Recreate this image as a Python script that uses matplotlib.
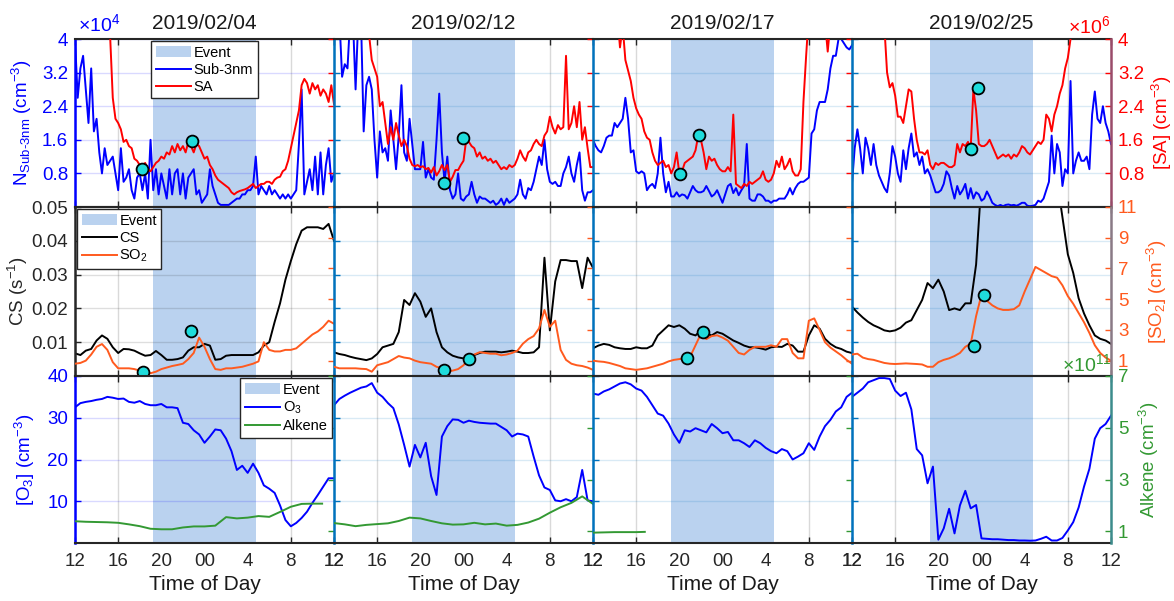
import numpy as np
import matplotlib
matplotlib.use("Agg")
import matplotlib.pyplot as plt

plt.rcParams['font.family'] = ['Liberation Sans', 'DejaVu Sans']
plt.rcParams['mathtext.fontset'] = 'custom'
plt.rcParams['mathtext.rm'] = 'Liberation Sans'
plt.rcParams['mathtext.it'] = 'Liberation Sans:italic'
plt.rcParams['mathtext.bf'] = 'Liberation Sans:bold'
plt.rcParams['mathtext.sf'] = 'Liberation Sans'

nan = np.nan

# ---------------- data ----------------
dates = ['2019/02/04', '2019/02/12', '2019/02/17', '2019/02/25']
event_start, event_end = 19.2, 28.8
xticks = [12, 16, 20, 24, 28, 32, 36]
xticklabels = ['12', '16', '20', '00', '4', '8', '12']

# Top row, 15-min values starting 12:00 (Sub-3nm in 1e4 cm-3, SA in 1e6 cm-3)
sub3_0204 = [4.0, 2.6, 3.3, 3.6, 2.8, 2.0, 3.3, 1.8, 2.1, 1.3,
             0.8, 1.4, 1.0, 1.1, 1.2, 0.8, 0.4, 1.4, 0.6, 0.7,
             0.9, 0.4, 0.2, 0.7, 0.8, 0.4, 0.8, 0.2, 1.6, 0.4,
             0.9, 0.3, 0.8, 0.5, 0.2, 0.9, 0.3, 0.8, 0.9, 0.3,
             0.8, 0.2, 0.7, 0.8, 0.9, 0.3, 0.4, 0.1, 0.2, 0.3,
             0.9, 0.5, 0.3, 0.1, 0.05, 0.05, 0.05, 0.05, 0.1, 0.15,
             0.2, 0.2, 0.3, 0.3, 0.4, 0.4, 0.5, 1.2, 0.3, 0.5,
             0.4, 0.3, 0.5, 0.3, 0.4, 0.3, 0.2, 0.3, 0.2, 0.3,
             0.2, 0.3, 0.4, 1.5, 2.8, 0.3, 0.6, 0.9, 0.4, 1.2,
             0.3, 1.3, 0.3, 1.0, 1.4, 0.6, 0.8]
sub3_0212 = [4.5, 4.5, 4.5, 3.1, 3.4, 3.3, 4.5, 4.5, 2.8, 4.5,
             4.5, 1.8, 2.9, 3.1, 2.8, 1.6, 0.7, 1.8, 1.3, 1.4,
             1.1, 2.3, 1.6, 0.9, 1.7, 2.9, 1.3, 1.1, 2.1, 1.5,
             0.9, 0.9, 0.9, 1.55, 0.7, 0.9, 0.7, 0.65, 1.6, 2.7,
             1.3, 0.6, 1.2, 0.4, 0.2, 0.3, 0.8, 0.2, 0.15, 0.25,
             0.3, 0.6, 0.3, 0.1, 0.25, 0.2, 0.2, 0.15, 0.1, 0.15,
             0.05, 0.1, 0.2, 0.05, 0.2, 0.1, 0.15, 0.2, 0.3, 0.65,
             0.3, 0.2, 0.45, 0.4, 0.6, 0.9, 1.2, 1.0, 1.6, 0.9,
             0.6, 0.55, 0.6, 0.5, 0.5, 0.8, 0.95, 1.2, 0.8, 0.6,
             1.0, 1.3, 0.4, 0.15, 0.35, 0.35, 0.4]
sub3_0217 = [1.6, 1.45, 1.35, 1.3, 1.45, 1.65, 1.7, 1.7, 2.0, 1.9,
             2.0, 2.1, 2.6, 2.1, 1.3, 1.35, 0.85, 0.8, 0.85, 0.8,
             0.4, 0.5, 0.55, 0.45, 0.8, 1.65, 0.8, 0.35, 0.6, 0.25,
             0.25, 0.35, 0.25, 0.3, 0.28, 0.2, 0.35, 0.5, 0.4, 0.35,
             0.35, 0.38, 0.5, 0.38, 0.25, 0.3, 0.4, 0.25, 0.1, 0.3,
             0.5, 0.55, 0.33, 0.45, 0.28, 0.4, 0.5, 1.5, 0.2, 0.15,
             0.15, 0.3, 0.3, 0.25, 0.15, 0.15, 0.1, 0.15, 0.15, 0.2,
             0.2, 0.2, 0.3, 0.45, 0.3, 0.45, 0.55, 0.6, 0.6, 0.65,
             0.7, 1.75, 1.85, 2.3, 2.5, 2.5, 2.5, 2.8, 3.3, 3.6,
             3.6, 4.0, 4.0, 3.9, 3.8, 3.75, 3.85]
sub3_0225 = [0.56, 1.4, 1.85, 1.4, 0.8, 1.65, 1.4, 1.0, 1.5, 1.0,
             0.75, 0.6, 0.45, 0.35, 0.8, 1.45, 1.2, 0.8, 0.6, 1.35,
             0.9, 1.4, 1.75, 1.2, 1.3, 1.0, 1.2, 0.8, 0.9, 0.75,
             0.55, 0.35, 0.35, 0.4, 0.55, 0.85, 0.75, 0.45, 0.2, 0.5,
             0.3, 0.4, 0.55, 0.2, 0.45, 0.2, 0.35, 0.3, 0.15, 0.2,
             0.37, 0.25, 0.1, 0.05, 0.02, 0.05, 0.02, 0.05, 0.06, 0.04,
             0.05, 0.03, 0.06, 0.1, 0.1, 0.03, 0.02, 0.03, 0.05, 0.15,
             0.12, 0.2, 0.4, 0.6, 1.7, 0.8, 1.5, 1.3, 0.5, 0.9,
             0.8, 3.0, 0.8, 1.1, 1.3, 1.1, 1.1, 1.2, 0.9, 2.2,
             2.75, 2.1, 2.0, 2.4, 2.0, 1.8, 1.5]

sa_0204 = [nan] * 12 + [4.6, 4.1, 2.6, 2.1, 2.0, 1.85, 1.55, 1.6, 1.45, 1.4, 1.15,
                        1.1, 1.0, 0.95, 1.05, 0.9, 0.85, 0.95, 1.05, 1.1, 1.2,
                        1.15, 1.3, 1.25, 1.45, 1.3, 1.5, 1.35, 1.45, 1.3, 1.55,
                        1.45, 1.3, 1.5, 1.45, 1.3, 1.15, 1.2, 1.0, 0.9, 0.75,
                        0.65, 0.6, 0.55, 0.5, 0.45, 0.35, 0.3, 0.35, 0.38, 0.4,
                        0.42, 0.45, 0.5, 0.55, 0.45, 0.5, 0.55, 0.55, 0.6, 0.6,
                        0.55, 0.65, 0.7, 0.72, 0.85, 0.9, 1.1, 1.4, 1.7, 2.0,
                        2.3, 2.9, 3.05, 2.95, 2.7, 2.95, 2.8, 2.9, 2.65, 2.8,
                        2.7, 2.5, 2.9, 2.45]
sa_0212 = [nan] * 12 + [4.6, 4.1, 3.5, 3.3, 3.1, 2.4, 2.5, 2.0, 1.5, 1.9,
                        1.6, 2.0, 1.7, 1.45, 1.6, 1.45, 1.15, 1.0, 0.97, 1.0,
                        0.95, 0.97, 0.9, 0.93, 0.82, 0.95, 0.75, 0.85, 1.0, 0.88,
                        1.0, 0.6, 0.72, 0.88, 0.88, 1.0, 1.1, 1.6, 1.55, 1.45,
                        1.4, 1.2, 1.3, 1.15, 1.2, 1.1, 1.15, 1.05, 1.1, 1.0,
                        0.9, 0.95, 0.9, 1.0, 0.95, 1.0, 1.15, 1.35, 1.2, 1.1,
                        1.3, 1.35, 1.5, 1.6, 1.5, 1.45, 1.7, 1.8, 2.15, 1.9,
                        1.75, 1.95, 1.85, 1.9, 3.6, 1.85, 2.0, 2.4, 1.9, 2.5,
                        1.6, 1.9, 1.4, 0.95, 0.95]
sa_0217 = [nan] * 9 + [4.6, 3.8, 4.3, 3.5, 3.25, 3.0, 2.6, 2.35, 2.2, 2.1,
                       1.8, 1.65, 1.6, 1.3, 1.1, 1.0, 1.05, 1.1, 0.95, 1.0,
                       0.8, 0.95, 1.3, 0.8, 0.85, 1.05, 1.1, 1.15, 1.2, 1.35,
                       1.7, 1.6, 1.3, 0.9, 1.2, 1.1, 1.15, 1.0, 0.9, 0.85,
                       0.85, 0.95, 0.85, 2.2, 0.55, 0.5, 0.45, 0.55, 0.5, 0.6,
                       0.55, 0.6, 0.65, 0.7, 0.85, 0.65, 0.6, 0.65, 0.8, 1.1,
                       0.95, 1.2, 0.9, 1.0, 1.15, 0.85, 0.75, 0.75, 0.9, 2.5,
                       3.6, 4.6] + [nan] * 5 + [4.4, 3.7, 4.4] + [nan] * 8
sa_0225 = [nan] * 12 + [4.3, 3.2, 2.85, 2.95, 2.65, 2.15, 2.15, 2.0, 2.4, 2.8,
                        2.75, 2.1, 1.6, 1.3, 1.3, 1.25, 1.35, 1.0, 0.9, 1.05,
                        1.0, 1.05, 1.05, 1.0, 0.95, 0.95, 1.0, 1.5, 1.3, 1.5,
                        1.45, 1.55, 1.4, 2.8, 2.3, 1.5, 1.45, 1.45, 1.5, 1.6,
                        1.45, 1.3, 1.15, 1.2, 1.25, 1.2, 1.25, 1.15, 1.25, 1.2,
                        1.3, 1.45, 1.4, 1.3, 1.25, 1.35, 1.45, 1.55, 1.5, 1.6,
                        2.2, 2.1, 1.8, 2.2, 2.4, 2.7, 2.9, 3.3, 3.55, 4.0,
                        4.6] + [nan] * 14

# cyan markers on the SA axis (hour of day, 1e6 cm-3)
mk_top_t = [[18.24, 22.87], [22.23, 23.99], [20.06, 21.82], [23.0, 23.65]]
mk_top_v = [[0.9, 1.58], [0.58, 1.65], [0.78, 1.71], [1.39, 2.83]]

# Middle row, 30-min values from 12:00 (CS in 1e-2 s-1, SO2 in axis units)
cs_0204 = [0.67, 0.62, 0.75, 0.8, 1.05, 1.2, 1.1, 0.85, 0.68, 0.8,
           0.79, 0.75, 0.67, 0.6, 0.62, 0.74, 0.62, 0.48, 0.48, 0.5,
           0.55, 0.75, 0.85, 0.85, 0.95, 0.9, 0.48, 0.5, 0.6, 0.62,
           0.62, 0.62, 0.62, 0.62, 0.7, 0.9, 1.0, 1.6, 2.15, 2.85,
           3.4, 3.9, 4.3, 4.4, 4.4, 4.4, 4.35, 4.5, 4.0]
cs_0212 = [0.7, 0.65, 0.62, 0.57, 0.53, 0.5, 0.47, 0.52, 0.65, 0.85,
           0.9, 0.95, 1.3, 2.25, 2.1, 2.45, 2.2, 1.75, 2.0, 1.3,
           0.85, 0.7, 0.6, 0.55, 0.52, 0.52, 0.62, 0.68, 0.72, 0.72,
           0.72, 0.7, 0.72, 0.75, 0.72, 0.68, 0.68, 0.7, 0.85, 3.5,
           1.35, 2.8, 3.43, 3.43, 3.4, 3.4, 2.6, 3.5, 3.2]
cs_0217 = [0.82, 0.9, 0.95, 0.92, 0.85, 0.82, 0.8, 0.8, 0.85, 0.82,
           0.82, 0.9, 1.2, 1.35, 1.5, 1.45, 1.5, 1.4, 1.25, 1.2,
           1.35, 1.25, 1.2, 1.3, 1.25, 1.15, 1.05, 0.98, 0.9, 0.85,
           0.85, 0.82, 0.78, 0.85, 0.87, 0.86, 0.95, 0.9, 0.72, 0.72,
           1.2, 1.5, 1.4, 1.1, 0.95, 0.85, 0.8, 0.72, 0.68]
cs_0225 = [2.05, 1.88, 1.73, 1.6, 1.5, 1.43, 1.35, 1.32, 1.35, 1.43,
           1.58, 1.65, 1.95, 2.25, 2.75, 2.6, 2.85, 2.5, 1.95, 2.0,
           1.95, 2.15, 2.15, 3.3, 5.8] + [nan] * 13 + [5.8, 4.7, 3.6, 3.05, 2.3,
                                                      1.85, 1.5, 1.2, 1.1, 1.05, 0.95]

so2_0204 = [0.8, 0.85, 1.0, 1.4, 1.9, 2.08, 1.7, 0.9, 0.5, 0.5,
            0.5, 0.45, 0.35, 0.28, 0.18, 0.28, 0.45, 0.55, 0.65, 0.72,
            0.8, 1.1, 1.5, 2.5, 1.9, 1.1, 0.45, 0.4, 0.5, 0.5,
            0.55, 0.6, 0.7, 0.8, 0.95, 2.2, 1.7, 1.6, 1.6, 1.7,
            1.7, 1.8, 2.1, 2.4, 2.7, 2.9, 3.2, 3.6, 3.4]
so2_0212 = [0.6, 0.5, 0.5, 0.5, 0.5, 0.47, 0.45, 0.28, 0.7, 0.8,
            0.9, 1.1, 1.3, 1.2, 1.15, 1.0, 0.9, 0.85, 0.8, 0.6,
            0.5, 0.3, 0.35, 0.45, 0.7, 1.15, 1.4, 1.55, 1.5, 1.45,
            1.45, 1.35, 1.4, 1.5, 1.65, 2.1, 2.4, 2.6, 3.1, 4.3,
            3.2, 3.6, 1.7, 1.05, 0.8, 0.7, 0.65, 0.55, 0.4]
so2_0217 = [1.0, 0.95, 0.92, 0.85, 0.75, 0.65, 0.5, 0.45, 0.4, 0.45,
            0.5, 0.6, 0.7, 0.8, 0.95, 1.05, 1.1, 1.15, 1.25, 2.0,
            2.75, 2.4, 2.6, 2.65, 2.5, 2.3, 1.9, 1.5, 1.4, 1.7,
            1.9, 1.9, 1.9, 2.0, 1.9, 2.4, 2.4, 1.5, 1.15, 1.15,
            3.6, 3.75, 3.0, 2.2, 1.85, 1.6, 1.35, 1.05, 0.8]
so2_0225 = [1.4, 1.45, 1.2, 1.1, 1.05, 0.95, 0.85, 0.8, 0.78, 0.8,
            0.82, 0.8, 0.78, 0.75, 0.6, 0.6, 0.9, 1.05, 1.15, 1.3,
            1.5, 1.9, 2.1, 3.9, 5.3, 4.9, 4.6, 4.4, 4.3, 4.3,
            4.35, 4.6, 5.5, 6.3, 7.1, 6.9, 6.7, 6.5, 6.4, 5.9,
            5.2, 4.7, 4.1, 3.5, 2.8, 2.0, 1.5, 1.2, 1.0]

# cyan markers on the SO2 axis
mk_mid_t = [[18.27, 22.75], [22.2, 24.54], [20.68, 22.16], [23.34, 24.26]]
mk_mid_v = [[0.28, 2.93], [0.39, 1.08], [1.19, 2.84], [1.97, 5.29]]

# Bottom row: O3 30-min values from 12:00; alkene (1e11 cm-3) at given hours
o3_0204 = [32.5, 33.5, 33.8, 34.0, 34.3, 34.5, 35.0, 34.8, 34.5, 34.6,
           33.8, 33.6, 34.0, 33.3, 33.0, 33.0, 33.3, 32.5, 32.5, 32.3,
           28.8, 28.5, 27.0, 26.0, 24.0, 25.5, 27.2, 27.0, 25.0, 22.0,
           17.5, 18.5, 16.8, 19.0, 16.8, 13.8, 13.0, 12.0, 9.0, 5.5,
           4.0, 4.8, 6.0, 7.5, 9.6, 11.5, 13.5, 15.5, 15.5]
o3_0212 = [33.0, 34.5, 35.3, 36.0, 36.6, 37.2, 37.5, 38.3, 36.0, 35.0,
           33.5, 32.3, 28.4, 23.5, 18.3, 23.5, 20.5, 24.0, 16.0, 11.5,
           25.5, 28.0, 29.6, 29.5, 28.8, 29.3, 29.0, 28.8, 28.7, 28.6,
           28.6, 27.8, 27.0, 25.5, 26.2, 26.0, 25.5, 20.7, 16.2, 13.3,
           12.7, 10.2, 10.0, 10.5, 10.0, 11.0, 17.5, 10.2, 10.0]
o3_0217 = [35.8, 35.5, 36.3, 36.8, 37.5, 38.2, 38.5, 38.0, 37.0, 36.5,
           35.0, 33.0, 31.0, 30.5, 28.6, 26.0, 24.0, 27.0, 26.7, 27.5,
           27.0, 26.5, 28.5, 27.5, 26.3, 26.6, 24.6, 24.6, 23.9, 23.0,
           24.6, 23.9, 22.8, 22.0, 21.5, 22.5, 22.0, 20.0, 20.7, 21.5,
           23.9, 22.3, 25.5, 28.0, 29.5, 31.5, 32.5, 35.0, 36.0]
o3_0225 = [35.0, 36.0, 37.0, 38.5, 39.0, 39.5, 39.5, 39.3, 36.5, 35.2,
           36.0, 32.0, 22.5, 21.0, 14.3, 18.3, 0.8, 3.5, 8.2, 2.3,
           9.0, 12.5, 8.3, 9.1, 1.1, 1.0, 0.9, 0.9, 0.8, 0.7,
           0.7, 0.6, 0.6, 0.55, 0.6, 1.0, 1.5, 0.6, 0.6, 1.2,
           3.0, 5.0, 8.5, 13.5, 17.8, 25.0, 27.5, 28.5, 30.5]

alk_t_0204 = list(range(12, 35)) + [34.9]
alk_0204 = [1.39, 1.37, 1.36, 1.35, 1.33, 1.27, 1.2, 1.1, 1.08, 1.08,
            1.15, 1.19, 1.19, 1.22, 1.55, 1.5, 1.53, 1.59, 1.56, 1.75,
            1.95, 2.06, 2.07, 2.07]
alk_t_0212 = list(range(12, 37))
alk_0212 = [1.32, 1.27, 1.2, 1.25, 1.28, 1.31, 1.4, 1.53, 1.5, 1.4,
            1.31, 1.26, 1.27, 1.33, 1.27, 1.3, 1.22, 1.25, 1.34, 1.49,
            1.72, 1.93, 2.1, 2.35, 2.06]
alk_t_0217 = [12, 13, 14, 15, 16, 16.8]
alk_0217 = [0.95, 0.96, 0.97, 0.97, 0.97, 0.98]
alk_t_0225 = []
alk_0225 = []

sub3 = [sub3_0204, sub3_0212, sub3_0217, sub3_0225]
sa = [sa_0204, sa_0212, sa_0217, sa_0225]
cs = [cs_0204, cs_0212, cs_0217, cs_0225]
so2 = [so2_0204, so2_0212, so2_0217, so2_0225]
o3 = [o3_0204, o3_0212, o3_0217, o3_0225]
alk_t = [alk_t_0204, alk_t_0212, alk_t_0217, alk_t_0225]
alk = [alk_0204, alk_0212, alk_0217, alk_0225]

# ---------------- style ----------------
BLUE = '#0000ff'
RED = '#ff0000'
ORANGE = '#ff5a1e'
GREEN = '#339933'
EVENT = '#bad2ef'
CYAN = '#1fdcdc'
AXBLUE = '#0072bd'
DARK = '#262626'

W, H = 1174, 601
fig = plt.figure(figsize=(W / 100, H / 100), dpi=100)
L0, CW = 75, 259
RT = [39, 207, 376]
RB = [207, 376, 543]
TICK_FS = 13.5


def hours(vals, step):
    return 12 + step * np.arange(len(vals))


def make_axes(r, c, lcolor, rcolor, rspine_color):
    ax = fig.add_axes([(L0 + CW * c) / W, 1 - RB[r] / H, CW / W, (RB[r] - RT[r]) / H])
    ax2 = ax.twinx()
    ax.set_xlim(12, 36)
    ax.set_xticks(xticks)
    ax.set_xticklabels(xticklabels if r == 2 else [])
    ax.set_axisbelow(True)
    ax.xaxis.grid(True, color='#d9d9d9', lw=1.0)
    gcol = lcolor if c == 0 else AXBLUE
    ax.yaxis.grid(True, color=gcol, alpha=0.15, lw=1.0)
    ax.yaxis.set_zorder(0.9)
    ax.tick_params(axis='x', direction='in', top=True, length=4, width=1,
                   color=DARK, labelcolor=DARK, labelsize=TICK_FS, pad=7)
    lc = lcolor if c == 0 else AXBLUE
    ax.tick_params(axis='y', direction='in', length=4, width=1, color=lc,
                   labelcolor=lcolor, labelsize=TICK_FS, labelleft=(c == 0), pad=5)
    ax2.tick_params(axis='y', direction='in', length=4, width=1, color=rcolor,
                    labelcolor=rcolor, labelsize=TICK_FS, labelright=(c == 3), pad=5)
    for s in ('top', 'bottom'):
        ax.spines[s].set_color(DARK)
        ax.spines[s].set_linewidth(1.5)
    ax.spines['right'].set_visible(False)
    ax.spines['left'].set_color(lcolor if c == 0 else AXBLUE)
    ax.spines['left'].set_linewidth(1.8)
    for s in ('left', 'top', 'bottom'):
        ax2.spines[s].set_visible(False)
    if c == 3:
        ax2.spines['right'].set_color(rspine_color)
        ax2.spines['right'].set_linewidth(1.8)
    else:
        ax2.spines['right'].set_visible(False)
    return ax, ax2


def legend(ax2, handles, labels, loc, anchor):
    leg = ax2.legend(handles, labels, loc=loc, bbox_to_anchor=anchor, fontsize=10.5,
                     frameon=True, fancybox=False, framealpha=1, edgecolor=DARK,
                     borderpad=0.3, labelspacing=0.22, handlelength=2.4,
                     handletextpad=0.2, borderaxespad=0.15)
    leg.get_frame().set_linewidth(1.0)
    leg.set_zorder(10)


lw = 1.4
for c in range(4):
    # ---- top row ----
    ax, ax2 = make_axes(0, c, BLUE, RED, '#9a4c6a')
    ev = ax.axvspan(event_start, event_end, color=EVENT, lw=0, zorder=0.8)
    l1, = ax.plot(hours(sub3[c], 0.25), np.array(sub3[c], float), color=BLUE, lw=lw, zorder=2)
    l2, = ax2.plot(hours(sa[c], 0.25), np.array(sa[c], float), color=RED, lw=lw, zorder=2)
    ax2.plot(mk_top_t[c], mk_top_v[c], 'o', ms=8.5, mfc=CYAN, mec='black', mew=1.3, zorder=5)
    ax.set_ylim(0, 4)
    ax2.set_ylim(0, 4)
    ax.set_yticks([0.8, 1.6, 2.4, 3.2, 4])
    ax.set_yticklabels(['0.8', '1.6', '2.4', '3.2', '4'])
    ax2.set_yticks([0.8, 1.6, 2.4, 3.2, 4])
    ax2.set_yticklabels(['0.8', '1.6', '2.4', '3.2', '4'])
    ax.set_title(dates[c], fontsize=15, color='#1a1a1a', pad=7)
    if c == 0:
        ax.set_ylabel(r'N$_{\mathrm{Sub}\text{-}\mathrm{3nm}}$ (cm$^{-3}$)', color=BLUE, fontsize=13.5)
        ax.yaxis.set_label_coords(-0.16, 0.5)
        legend(ax2, [ev, l1, l2], ['Event', 'Sub-3nm', 'SA'], 'upper center', (0.5, 1.0))
    if c == 3:
        ax2.set_ylabel('[SA] (cm$^{-3}$)', color=RED, fontsize=13.5)
        ax2.yaxis.set_label_coords(1.15, 0.5)

    # ---- middle row ----
    ax, ax2 = make_axes(1, c, DARK, ORANGE, '#8a7a86')
    ev = ax.axvspan(event_start, event_end, color=EVENT, lw=0, zorder=0.8)
    l1, = ax.plot(hours(cs[c], 0.5), np.array(cs[c], float) * 1e-2, color='black', lw=lw, zorder=2)
    l2, = ax2.plot(hours(so2[c], 0.5), np.array(so2[c], float), color=ORANGE, lw=lw, zorder=2)
    ax2.plot(mk_mid_t[c], mk_mid_v[c], 'o', ms=8.5, mfc=CYAN, mec='black', mew=1.3, zorder=5)
    ax.set_ylim(0, 0.05)
    ax2.set_ylim(0, 11)
    ax.set_yticks([0.01, 0.02, 0.03, 0.04, 0.05])
    ax.set_yticklabels(['0.01', '0.02', '0.03', '0.04', '0.05'])
    ax2.set_yticks([1, 3, 5, 7, 9, 11])
    if c == 0:
        ax.set_ylabel('CS (s$^{-1}$)', color=DARK, fontsize=13.5)
        ax.yaxis.set_label_coords(-0.175, 0.5)
        legend(ax2, [ev, l1, l2], ['Event', 'CS', 'SO$_2$'], 'upper left', (0.0, 1.0))
    if c == 3:
        ax2.set_ylabel('[SO$_2$] (cm$^{-3}$)', color=ORANGE, fontsize=13.5)
        ax2.yaxis.set_label_coords(1.13, 0.5)

    # ---- bottom row ----
    ax, ax2 = make_axes(2, c, BLUE, GREEN, '#3c8c8c')
    ev = ax.axvspan(event_start, event_end, color=EVENT, lw=0, zorder=0.8)
    l1, = ax.plot(hours(o3[c], 0.5), o3[c], color=BLUE, lw=lw, zorder=2)
    l2, = ax2.plot(alk_t[c], alk[c], color=GREEN, lw=lw, zorder=2)
    ax.set_ylim(0, 40)
    ax2.set_ylim(0.55, 7)
    ax.set_yticks([10, 20, 30, 40])
    ax2.set_yticks([1, 3, 5, 7])
    ax.set_xlabel('Time of Day', fontsize=15, color='#1a1a1a', labelpad=4)
    if c == 0:
        ax.set_ylabel('[O$_3$] (cm$^{-3}$)', color=BLUE, fontsize=13.5)
        ax.yaxis.set_label_coords(-0.145, 0.5)
        legend(ax2, [ev, l1, l2], ['Event', 'O$_3$', 'Alkene'], 'upper right', (1.0, 1.0))
    if c == 3:
        ax2.set_ylabel('Alkene (cm$^{-3}$)', color=GREEN, fontsize=13.5)
        ax2.yaxis.set_label_coords(1.1, 0.5)

# exponent labels
fig.text(78 / W, 1 - 35 / H, r'$\times$10$^{4}$', color=BLUE, fontsize=14, ha='left', va='bottom')
fig.text(1068 / W, 1 - 37 / H, r'$\times$10$^{6}$', color=RED, fontsize=14, ha='left', va='bottom')
fig.text(1062 / W, 1 - 375 / H, r'$\times$10$^{11}$', color=GREEN, fontsize=14, ha='left', va='bottom')

fig.savefig('out.png', dpi=100)
